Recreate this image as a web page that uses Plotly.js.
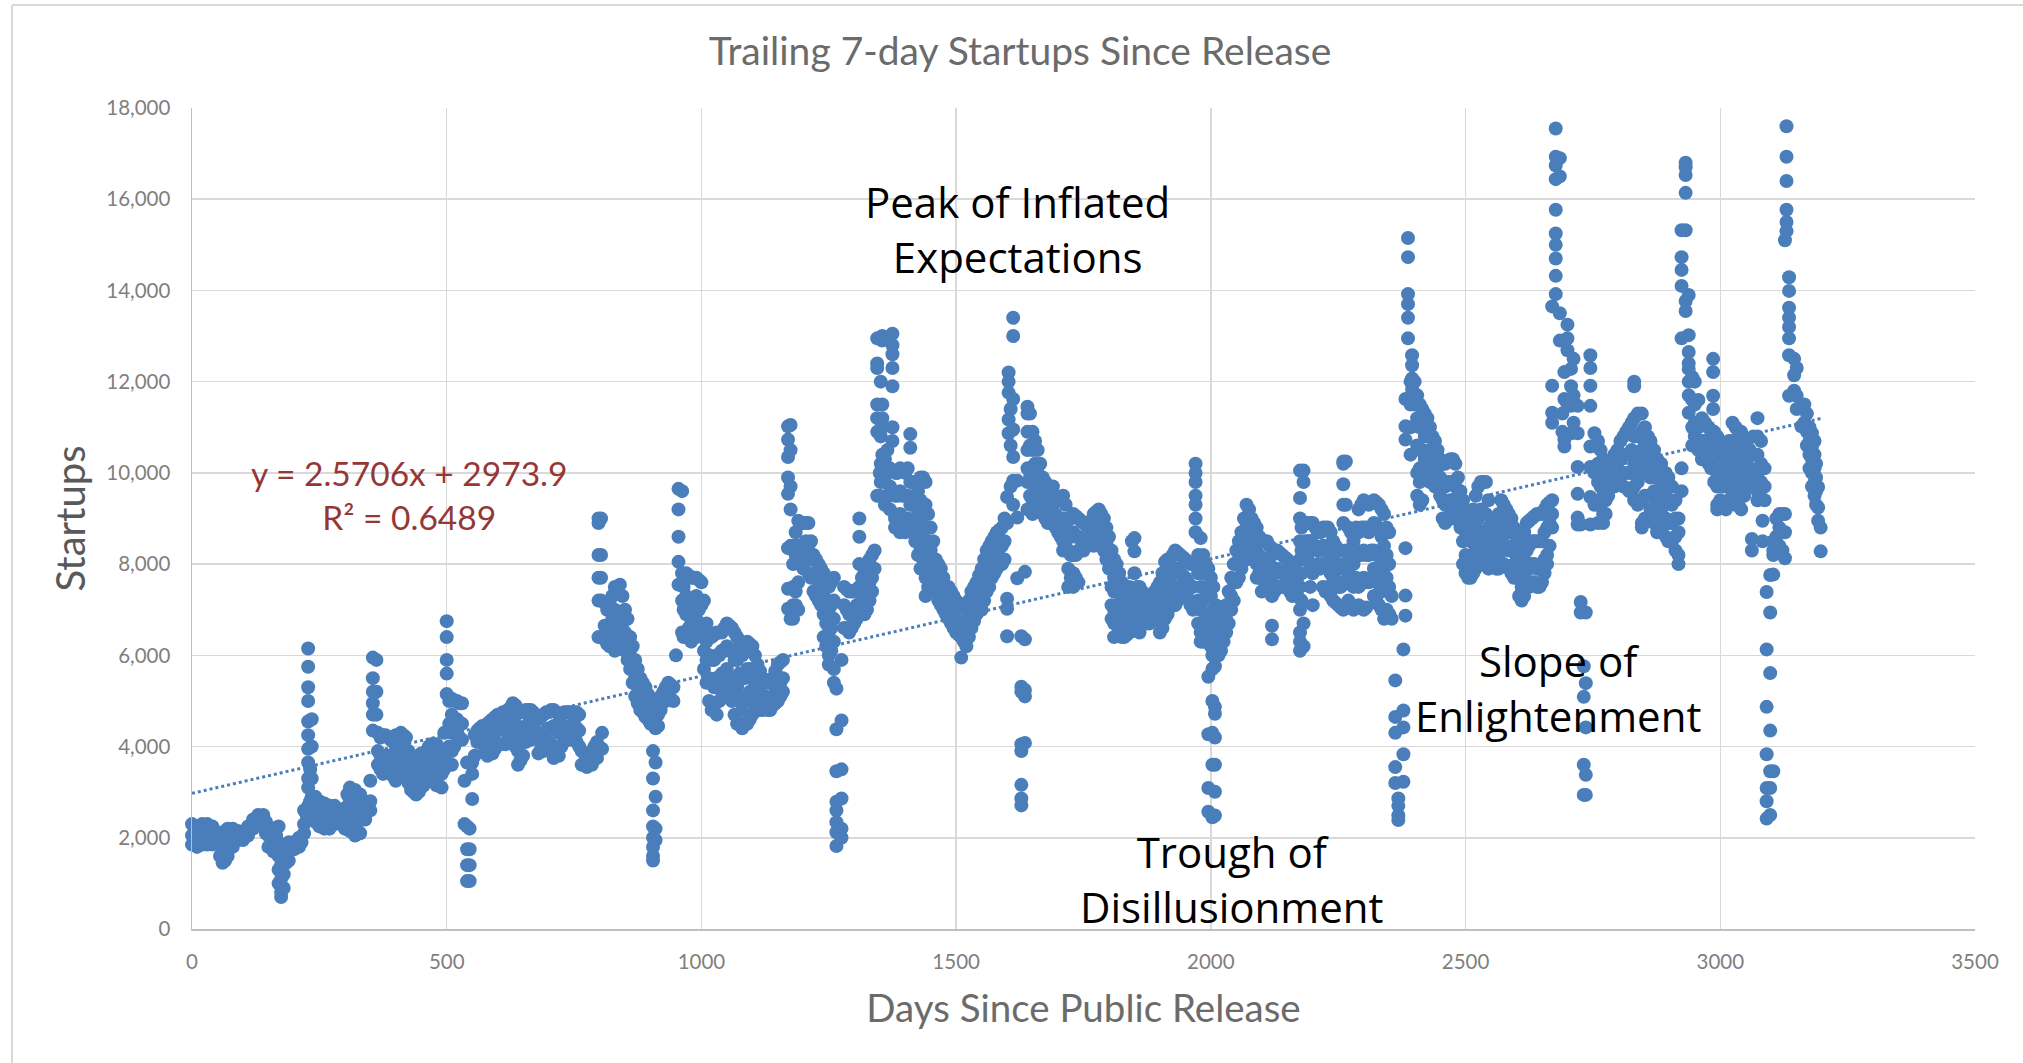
<!DOCTYPE html>
<html><head><meta charset="utf-8">
<script src="https://cdn.plot.ly/plotly-3.0.1.min.js"></script>
<style>html,body{margin:0;padding:0;background:#fff}#c{width:2023px;height:1063px}</style>
</head><body><div id="c"></div>
<script>
// each row: day, then the startups values read at that day
const rows0 = [
[0,2300,2050,1850],[10,2250,2000,1800],[20,2300,2050,1850],[30,2300,2050,1850],[40,2250,2050,1850],[50,2100,1900],[55,1900,1600],[60,2050,1750,1450],[65,2150,1800,1500],[70,2200,1950,1600],[80,2200,2000,1800],[90,2150,1950],[100,2100,1950],[110,2250,2050],[120,2400,2200],[130,2500,2300],[140,2500,2250],[150,2250,2050,1800],[160,2200,1950,1700],[170,2250,1900,1600,1300,1000],[175,1700,1400,1100,800,700],[180,1500,1200,900],[190,1900,1700,1500],[200,1900,1750],[210,2000,1800],[220,2600,2300,2100],[228,6150,5750,5300,5000,4550,4250,3950,3650,3300,3100,2700,2400],[235,4600,4000,3300,2900],[250,2800,2500,2250],[260,2750,2450,2200],[270,2700,2450,2200],[280,2700,2500,2300],[290,2600,2450],[300,2650,2450,2200],[310,3100,2800,2400,2150],[320,3050,2700,2300,2050],[330,2950,2550,2100],[340,2750,2400],[350,3250,2800,2600],[355,5950,5500,5200,4950,4700,4350],[362,5900,5200,4700],[365,4300,3900,3600],[380,4250,3800,3500],[390,4150,3700,3400],[400,4250,3900,3400,3250],[410,4300,4000,3600],[420,4200,3800,3400],[430,3700,3300,3050],[440,3500,3200,2950],[450,3850,3500,3100],[460,3900,3600,3250],[470,4050,3650,3300],[480,4050,3700,3150],[490,3700,3400,3100],[495,4300,3800,3500],[500,6750,6400,5900,5600,5150]
];
const rows1 = [
[510,5050,4700,4300,3900,3600],[520,5000,4600,4250],[530,4950,4500,4150],[535,3250,2300],[540,3650,2250,1750,1400,1050],[545,2200,1750,1400,1050],[550,3650,3400,2850],[560,4350,4100],[570,4450,4200],[580,4500,4100,3800],[590,4600,4250,3850],[600,4700,4350],[610,4750,4400],[620,4800,4500,4150],[630,4950,4600,4200],[640,4800,4400,3900,3600],[650,4750,4300,3800],[660,4800,4500],[670,4750,4400],[680,4600,4150,3850],[690,4700,4300,3900],[700,4750,4400,4100],[710,4800,4450,4000,3750],[720,4700,4300,3800],[730,4750,4450,4100],[740,4750,4450],[750,4750,4500,4200],[760,4700,4350,4000],[765,3900,3600],[775,3800,3550],[785,3900,3600],[795,4100,3750],[805,4300,3950],[798,9000,8900,8200,7700,7200,6400],[803,9000,8200,7700,7200],[810,7150,6650,6350],[820,7200,6600,6200],[830,7500,7000,6500,6100],[840,7550,6950,6400],[850,7000,6500,6100],[860,6400,6000,5700],[870,5900,5500,5100],[880,5500,5100,4800],[890,5300,4900,4650],[900,5000,4750,4500],[905,3900,3300,2600,2250,2000,1800,1600,1500],[910,4700,4400,3650,2900,2200,1950],[925,5200,5000],[935,5400,5100],[945,5300,5000],[950,6000],[955,9650,9200,8600,8050,7550],[962,9600,7800,7200,6500],[970,7800,7300,6900,6500],[980,7700,7200,6700,6300],[990,7700,7300,6800,6400],[1000,7600,7100,6600]
];
const rows2 = [
[1010,6700,6300,5900,5400],[1020,6400,5900,5400,4800],[1030,6500,6000,5500,4700],[1040,6500,6100,5600,5200],[1050,6700,6200,5700,5300],[1060,6600,6100,5400,5000],[1070,6400,5900,5300,4500],[1080,6000,5500,4800,4400],[1090,6300,5700,5100,4500],[1100,6200,5600,5100,4700],[1110,5800,5300,4800],[1120,5500,5000,4800],[1130,5400,5000,4800],[1140,5500,5100,4900],[1150,5800,5300,5000],[1160,5900,5500,5200],[1170,11020,10730,10350,9900,9540,8350,7460,7020],[1175,11050,10500,9700,9200,8400,7000,6800],[1180,8400,8000,7500,7100,6800],[1190,8950,8400,7600,7000],[1200,8900,8300,7900],[1210,8900,8300,7800],[1220,8200,7800,7400],[1230,8000,7500,7200],[1240,7800,7300,6900,6400],[1250,7500,7000,6500,6000,5800],[1260,7700,7200,6800,6300,5700,5400],[1265,5270,4380,3460,2790,2600,2340,2120,1820],[1275,5900,4570,3500,2860,2200,2000],[1280,7500,7100,6600],[1290,7400,6900,6500],[1300,7400,7000,6700],[1310,9000,8600,8000,7500,7000],[1320,7800,7400,6900],[1330,8100,7600,7200],[1340,8300,7900],[1345,12950,12400,12300,11500,11200,10900,9500],[1355,13000,12900,11500,11200,11000,10400,10100],[1350,10000,9500],[1360,10300,9800,9300],[1370,10100,9700,9200],[1375,13050,12800,12600,12300,11900,11000,10700],[1380,10000,9500,9000,8800],[1390,10100,9600,9100,8700],[1400,10000,9500,9000,8700],[1410,10850,10550,9800,9300,8900],[1420,9500,9000,8500],[1430,9900,9400,8900,8300,7900],[1440,9800,9300,8800,8200,7700,7300],[1450,8800,8300,7900],[1460,8100,7700,7400],[1470,7900,7500,7100],[1480,7500,7100,6900],[1490,7400,7000,6700],[1500,7200,6800,6500]
];
const rows3 = [
[1510,7100,6700,6400,5950],[1520,7000,6600,6200],[1530,7400,7000,6600],[1540,7600,7300,6900],[1550,7900,7400,7000],[1560,8300,7800,7400],[1570,8500,8100,7700],[1580,8700,8300,7900],[1590,8800,8400,8000],[1600,9470,8900,7240,7020,6420],[1603,12200,12000,11760,11170,10870],[1612,13400,13000,11620,10950,10350,9830,9300],[1620,9830,9020,7690],[1628,6420,5310,5200,4050,3900,3160,2860,2710],[1635,7830,6350,5240,5100,4080],[1640,11450,11300,10900,10500,10100,9800,9200],[1650,10900,10500,10100,9800,9400,9100],[1660,10500,10000,9600,9200],[1670,9900,9500,9100],[1680,9700,9300,8900],[1690,9700,9300,8900],[1700,9400,9000,8700],[1710,9500,9000,8500,8300],[1720,9000,8600,8300,7900,7500],[1730,9100,8700,8200,7800,7500],[1740,9000,8600,8300,7600],[1750,8900,8500,8300],[1760,8800,8500],[1770,9100,8700,8400],[1780,9200,8800,8500],[1790,9000,8600,8300],[1800,8600,8300,7900],[1810,8100,7700,7400,7000,6700,6400],[1820,7800,7400,7000,6500],[1830,7400,7000,6700,6400],[1840,7500,7200,6800,6500],[1850,8570,8280,7800],[1860,7500,7200,6900,6500],[1870,7300,7000,6700],[1880,7300,7000,6700],[1890,7400,7100,6900],[1900,7600,7200,6900,6500],[1910,8050,7600,7200,6800],[1920,8100,7700,7300],[1930,8300,7900,7500,7100],[1940,8200,7800,7400],[1950,8100,7700,7400],[1960,8000,7500,7100],[1970,10200,10000,9800,9500,9300,9000,8700],[1980,8570,8100,7500,7000,6500,6300],[1990,8000,7500,6900,6600,6300],[2000,7700,7300,6800,6500,6200]
];
const rows4 = [
[1995,5530,4270,3090,2570],[2003,6000,5700,5000,4300,3600,2450],[2008,5760,4870,4720,4200,3600,3010,2490],[2015,6900,6400,6000],[2030,7100,6800,6500],[2040,7700,7300,7000],[2050,8300,8000,7600],[2060,8700,8300,7900],[2070,9300,8900,8400,8100],[2080,9000,8600,8200],[2090,8800,8400,8000,7700],[2100,8500,8100,7700,7400],[2110,8500,8100,7800],[2120,8200,7700,7300,6650,6350],[2130,8300,7900,7500],[2140,8200,7800,7500],[2150,8100,7800,7500],[2160,8000,7700,7300],[2175,10050,9450,9000,8500,8100,7500,7000,6500,6300,6100],[2182,10050,9800,8900,6700,6200],[2190,8900,8500,8200],[2200,8900,8400,7800,7100],[2210,8700,8300,8000],[2220,8800,8400,8000,7500],[2230,8800,8400,8000,7500],[2240,8500,8100,7700,7200],[2250,8300,7900,7500,7100],[2260,10250,10200,9750,9300,8900,8000,7600,7000],[2265,10250,9300,8300],[2270,8800,8300,7800,7200],[2280,8500,8000,7500,7000],[2290,9200,8700,8200,7500,7100],[2300,9400,8800,8300,7700,7000],[2310,9300,8700,8200,7600],[2320,9400,8900,8300,7900,7300],[2330,9300,8800,8200,7700,7100],[2340,9100,8400,7900,7000,6800],[2350,8700,8000,7500,6900],[2355,7300,6800],[2362,5450,4650,4300,3550,3200],[2368,2860,2700,2490,2390],[2378,6130,4790,4420,3830,3230],[2382,8350,7310,6870,11620,11020,10730],[2387,15150,14730,13920,13700,13400,12950],[2395,12580,12360,12070,11840],[2400,12000,11500],[2410,11500,11000,10500,10100,9800,9300],[2425,11200,10800,10300,10000],[2440,10700,10200,9700],[2455,10200,9800,9400,9000],[2470,10300,9800,9400,9100],[2480,10200,9700,9300],[2490,9600,9200,8800],[2500,9200,8700,8200,7800]
];
const rows5 = [
[2510,8900,8500,8100,7700],[2520,9500,8800,8300,7900],[2530,9800,9200,8600,8100],[2540,9800,9100,8500,8000],[2550,9000,8600,8100],[2560,8800,8300,7900],[2570,9400,8900,8500,8000],[2580,9200,8900,8400],[2590,9000,8700,8300,7800],[2600,8600,8200,7800],[2610,8400,8000,7500,7200],[2620,8900,8300,7900,7500],[2630,9000,8500,8000,7600],[2640,9100,8500,7900,7500],[2650,9100,8500,7900,7600],[2660,9300,8800,8200,8000],[2670,9400,9100,8800,13650,11910,11320,11100],[2677,17550,16930,16740,16440,15770,15250,15000,14700,14320,13920],[2685,16900,16500,13500,12900],[2694,12210,11620,10730,10580],[2700,13250,12950,12690,11500],[2707,12280,11900,11470,10870],[2720,11470,10870,10130,9540,9020,8870],[2726,7170,6940,8870],[2732,5760,5090,3600,2940],[2736,6940,5390,4420,3380,2940],[2745,12580,12300,11910,11470,10580,10130,9470,8870],[2753,10870,10000,9300],[2770,10300,9900,9500,9100,8900],[2787,10200,9900,9700],[2804,10700,10300,9900],[2821,11000,10400,10000,9600],[2831,12000,11900,11200,10800,10200,9700,9400],[2846,11300,10900,10500,10000,9400,8900,8800],[2863,10700,10300,9900,9500,9200],[2876,10300,9900,9400,9000,8700],[2893,10000,9500,9000,8600],[2905,9700,9300,8900,8500],[2918,9000,8700,8200,8000],[2924,15320,14730,14450,14100,12950,10100,9600],[2932,16800,16700,16530,16140,15320,13770,13550]
];
const rows6 = [
[2938,13900,13020,12650,12400,12280,12000,11700,11320],[2950,12000,11500,11100,10800],[2964,11200,10700,10300],[2977,11000,10600,10200],[2986,12500,12210,11690,11400],[2994,10800,10500,10000,9700,9300,9200],[3011,10500,10100,9700,9200],[3024,11100,10700,10300,9900,9500],[3041,10900,10400,10000,9600,9200],[3058,10500,10100,9800],[3073,11200,10800,10400,10000,9600,9400],[3062,8550,8300],[3083,8950,8500],[3087,10100,9700,9400],[3091,7390,6130,4870,3830,3090,2800,2420],[3098,7760,6940,5610,4350,3460,3090,2500],[3104,8500,8300,8200,7770,3460],[3116,9100,8800,8400],[3127,9100,8700,8130,15100],[3130,17600,16930,16400,15770,15500,15300],[3135,14290,13990,13620,13400,13200,12950,12580,11690],[3145,12500,12140,11800],[3150,12300,11690,11400],[3159,11470,11020],[3170,11300,10900,10600],[3180,10870,10580,10300,10000,9700],[3192,9690,9240,8950],[3197,8800,8280]
];
// further readings inside the dense bands
const rowsBand0 = [
[5,2150,1950],[15,2150,1900],[25,2200,1950],[35,2150,1950],[45,2150,1950],[75,2100,1850],[105,2050],[125,2350],[145,2350,2100],[155,2100,1850],[165,2050,1800],[185,1700,1450],[195,1800],[215,1900],[225,2500],[232,3500,2800],[242,2900,2600,2350],[255,2650,2350],[265,2600,2300],[275,2600,2350],[285,2600,2400],[295,2550],[305,2950,2550,2300],[315,2950,2550,2200],[325,2850,2450,2150],[335,2800,2400],[345,2650],[370,4200,3800,3500],[375,4250,3700,3400],[385,4200,3800,3450],[395,4100,3700,3350],[405,4250,3800,3500],[415,4250,3900,3500],[425,3900,3500,3200],[435,3600,3250,3000],[445,3700,3300,3000],[455,3850,3450,3150],[465,4000,3600,3250],[475,4050,3700,3350],[485,3850,3500,3150],[505,5000,4500,4000],[515,5000,4500,4000],[525,4950,4500,4200],
[555,4250,3800],[565,4400,4150],[575,4450,4150,3900],[585,4550,4200],[595,4650,4300,3950],[605,4700,4400,4050],[615,4750,4350,4050],[625,4850,4450,4100],[635,4900,4500,4000],[645,4750,4300,3700],[655,4800,4400,4100],[665,4800,4450,4150],[675,4700,4300],[685,4650,4250,3950],[695,4750,4350,4000],[705,4800,4400,4050],[715,4750,4350,3900],[725,4700,4350,4000],[735,4750,4400],[745,4750,4450,4150],[755,4750,4400,4100],[770,3850],[780,3850],[790,4000],[815,7000,6600,6250],[825,7300,6800,6350],[835,7500,6800,6250],[845,7300,6700,6250],[855,6800,6300,5900],[865,6200,5800,5400],[875,5700,5300,4950],[885,5400,5000,4750],[895,5150,4800,4600],[915,5000,4700,4450],[920,5100,4800],[930,5300,5000],[940,5350,5050],[965,7500,7000,6400],[975,7750,7200,6600],[985,7700,7100,6500],[995,7650,7000,6500]
];
const rowsBand1 = [
[1005,7200,6600,6100,5700],[1015,6500,6000,5500,5000],[1025,6450,5900,5300,4900],[1035,6500,6000,5400,5000],[1045,6600,6100,5500],[1055,6650,6100,5500,5100],[1065,6500,5900,5200,4700],[1075,6200,5600,5000,4500],[1085,6100,5500,5000,4500],[1095,6250,5700,5200,4600],[1105,6000,5400,4900],[1115,5650,5200,4800],[1125,5450,5100,4850],[1135,5450,5050,4800],[1145,5650,5200,4950],[1155,5850,5400,5100],[1185,8700,8200,7400,7100],[1195,8900,8400,8000],[1205,8900,8500,8100],[1215,8500,8100,7700],[1225,8100,7700,7300],[1235,7900,7400,7100],[1245,7600,7100,6700,6200],[1255,7600,7100,6600,6100],[1285,7450,7000,6600],[1295,7400,7000,6600],[1305,7450,7100,6800],[1315,7700,7300,6900],[1325,7900,7500,7000],[1335,8200,7700,7400],[1352,12000,10800,10200,9800],[1365,12950,10500,10000,9500],[1385,10000,9500,9000,8800],[1395,10050,9500,9000],[1405,10100,9500,9000],[1415,9800,9300,8800],[1425,9600,9100,8600,8200],[1435,9900,9300,8700,8100],[1445,9100,8500,8100,7500],[1455,8500,8000,7600],[1465,8000,7600,7200],[1475,7700,7300,7000],[1485,7500,7100,6800],[1495,7300,6900,6600],[1505,7150,6750,6450],[1515,7050,6650,6300],[1525,7200,6800,6400],[1535,7500,7100,6750],[1545,7750,7350,7000],[1555,8100,7600,7200],[1565,8400,8000,7500],[1575,8600,8200,7800],[1585,8750,8350,8000],[1595,9000,8500,8100],[1607,11400,10600,9700],[1645,11300,10600,10000,9500],[1655,10700,10200,9700,9300],[1665,10200,9800,9300],[1675,9800,9400,9000],[1685,9700,9300,8900],[1695,9500,9100,8800],[1705,9400,9000,8600],[1715,9300,8800,8400],[1725,9000,8600,8200,7700],[1735,9050,8600,8200,7700],[1745,8950,8550,8300],[1755,8850,8500],[1765,8950,8600],[1775,9150,8750,8450],[1785,9100,8700,8400],[1795,8800,8450,8100],[1805,8300,8000,7500,7100,6800],[1815,8000,7600,7100,6700],[1825,7600,7200,6800,6400],[1835,7450,7100,6700,6450],[1845,8500,7400,7000,6700],[1855,7500,7100,6800],[1865,7400,7100,6800],[1875,7300,7000,6700],[1885,7350,7050,6800],[1895,7500,7150,6800],[1905,7800,7400,7000,6600],[1915,8100,7700,7300,6900],[1925,8200,7800,7400],[1935,8250,7900,7500,7200],[1945,8150,7750,7400],[1955,8050,7600,7250],[1965,8000,7500,7000],[1975,8200,7800,7200,6700],[1985,8200,7800,7200,6700,6300],[1995,7900,7400,6800,6400]
];
const rowsBand2 = [
[2005,7500,7000,6500,6250],[2010,7100,6600,6200],[2020,6950,6500,6100],[2025,7000,6700,6300],[2035,7400,7000,6700],[2045,8000,7600,7200],[2055,8500,8100,7700],[2065,9000,8600,8200],[2075,9200,8800,8300],[2085,8900,8500,8100],[2095,8600,8200,7800],[2105,8500,8100,7600],[2115,8400,8000,7600],[2125,8250,7800,7400],[2135,8250,7850,7500],[2145,8150,7800,7500],[2155,8050,7750,7400],[2165,7950,7600],[2170,7700,7300],[2178,8800,8300,7800,7200],[2185,8900,8500,8100],[2195,8900,8500,8000,7500],[2205,8800,8400,7900],[2215,8700,8300,7900],[2225,8800,8400,8000,7400],[2235,8700,8200,7800,7300],[2245,8400,8000,7600,7150],[2255,8300,7900,7500,7050],[2275,8700,8200,7700,7100],[2285,8800,8300,7700,7050],[2295,9300,8800,8200,7600,7050],[2305,9350,8800,8200,7600,7050],[2315,9350,8800,8300,7700],[2325,9350,8800,8200,7600,7200],[2335,9200,8600,8000,7400,7000],[2345,8800,8200,7700,7000],[2392,12000,11500,11000,10400],[2405,11700,11200,10600,10000,9500],[2415,11400,11000,10500,10000,9400],[2420,11300,10800,10300,9900],[2430,11000,10500,10100,9800],[2435,10800,10400,10000],[2445,10500,10100,9700],[2450,10300,9900,9500],[2460,10200,9700,9300,8900],[2465,10250,9800,9300,9000],[2475,10300,9800,9400,9000],[2485,9900,9500,9000],[2495,9400,8900,8500,8000],[2505,9100,8600,8100,7700],[2515,9200,8600,8200,7800],[2525,9700,9000,8400,8000],[2535,9800,9100,8500,8100],[2545,9400,8800,8300,7900],[2555,8900,8400,8000],[2565,9100,8600,8200,7900],[2575,9300,8900,8400,8000],[2585,9100,8700,8300,7900],[2595,8800,8400,8000,7700],[2605,8500,8100,7700,7300],[2615,8700,8100,7700,7300],[2625,8950,8400,7900,7500],[2635,9050,8500,8000,7600],[2645,9100,8500,7900,7500],[2655,9200,8700,8100,7800],[2665,9350,8900,8400],
[2690,11300,10900],[2712,12500,11700,11100],[2760,10700,10200,9800,9300,8900],[2765,10500,10100,9700,9300],[2775,10200,9800,9400,9100],[2780,10200,9900,9500],[2792,10400,10000,9700],[2798,10500,10100,9800],[2810,10800,10400,10000,9700],[2815,10900,10400,10000],[2826,11100,10500,10000,9600],[2838,11300,10800,10300,9800,9300],[2852,11000,10600,10100,9500,9000],[2858,10800,10400,10000,9500],[2870,10500,10100,9600,9200,8900],[2884,10200,9700,9200,8800],[2898,9900,9400,8900,8500],[2912,9400,9000,8600,8300],[2945,12100,11600,11000,10600],[2957,11600,11000,10500],[2970,11100,10700,10300],[2982,10900,10500,10100],[2988,10900,10500,10200,9800],[3000,10700,10300,9800,9400],[3005,10600,10200,9700,9300],[3017,10700,10300,9900,9400],[3030,11000,10500,10100,9700,9300],[3036,10900,10500,10100,9700,9300],[3047,10700,10300,9900,9500],[3052,10600,10200,9800],[3065,10800,10400,10000,9700],[3080,10700,10200,9800,9450],[3110,9000,8600,8300],[3122,9100,8700,8300],[3165,11500,11100],[3175,11000,10700,10400,10100],[3185,10700,10400,10100,9800,9500],[3188,10200,9900,9600,9300]
];
const equationText = "y = 2.5706x + 2973.9<br>R² = 0.6489";
const trendSlope = 2.5706, trendIntercept = 2973.9;
const trendDays = [0, 3197];
const yTickValues = [0,2000,4000,6000,8000,10000,12000,14000,16000,18000];
const xTickValues = [0,500,1000,1500,2000,2500,3000,3500];

const days = [], startups = [];
[rows0,rows1,rows2,rows3,rows4,rows5,rows6,rowsBand0,rowsBand1,rowsBand2].forEach(t => t.forEach(r => {
  for (let i = 1; i < r.length; i++) { days.push(r[0]); startups.push(r[i]); }
}));
const blue = '#4a7ebb', grey = '#7f7f7f', gridC = '#d9d9d9';
const bodyFont = 'Lato, Carlito, sans-serif', noteFont = '"Open Sans", sans-serif';
const note = (text, x, y, align) => ({text, x, y, xref:'x', yref:'y', showarrow:false, align:align||'center',
  font:{family:noteFont, size:42, color:'#000'}, xanchor:'center', yanchor:'middle'});
const W = 1783, H = 821;
const ax = {range:null, showgrid:true, gridcolor:gridC, gridwidth:1.5, zeroline:false, showline:true, linecolor:'#bfbfbf', linewidth:1.5,
  ticks:'', tickfont:{family:bodyFont, size:20.5, color:grey}, tickmode:'array'};
Plotly.newPlot('c', [
 {type:'scatter', mode:'lines', x:trendDays, y:trendDays.map(d => trendSlope*d+trendIntercept), hoverinfo:'skip',
  line:{color:blue, width:3, dash:'dot'}, showlegend:false},
 {type:'scatter', mode:'markers', x:days, y:startups, cliponaxis:false,
  marker:{color:blue, size:14, line:{width:0}}, showlegend:false}
], {
 width:2023, height:1063, paper_bgcolor:'#fff', plot_bgcolor:'#fff',
 margin:{l:192, r:48, t:108, b:134, pad:0},
 title:{text:'Trailing 7-day Startups Since Release', x:1020/2023, xanchor:'center', y:1-51/1063, yanchor:'middle',
   font:{family:bodyFont, size:39, color:'#6b6b6b'}},
 xaxis:Object.assign({}, ax, {range:[0,3500], tickvals:xTickValues, ticktext:xTickValues.map(String), ticklabelstandoff:14,
   title:{text:'Days Since Public Release', standoff:23, font:{family:bodyFont, size:38.5, color:'#6b6b6b'}}}),
 yaxis:Object.assign({}, ax, {range:[0,18000], tickvals:yTickValues, ticktext:yTickValues.map(v=>v.toLocaleString('en-US')), ticklabelstandoff:16,
   title:{text:'Startups', standoff:8, font:{family:bodyFont, size:40, color:'#595959'}}}),
 annotations:[
  note('Peak of Inflated<br>Expectations', 1621, 15340),
  note('Trough of<br>Disillusionment', 2041, 1100),
  note('Slope of<br>Enlightenment', 2682, 5290),
  note('Plateau of<br>Productivity', 3186, 19100, 'left'),
  {text:equationText, x:425, y:9510, xref:'x', yref:'y', showarrow:false, align:'center',
   font:{family:bodyFont, size:33.5, color:'#953735'}}
 ],
 shapes:[
  {type:'line', xref:'paper', yref:'paper', x0:-180/W, x1:-180/W, y0:-134/H, y1:1+103/H, line:{color:'#d9d9d9', width:2}},
  {type:'line', xref:'paper', yref:'paper', x0:-180/W, x1:1+48/W, y0:1+103/H, y1:1+103/H, line:{color:'#d9d9d9', width:2}}
 ]
}, {displayModeBar:false, staticPlot:true});
</script></body></html>
